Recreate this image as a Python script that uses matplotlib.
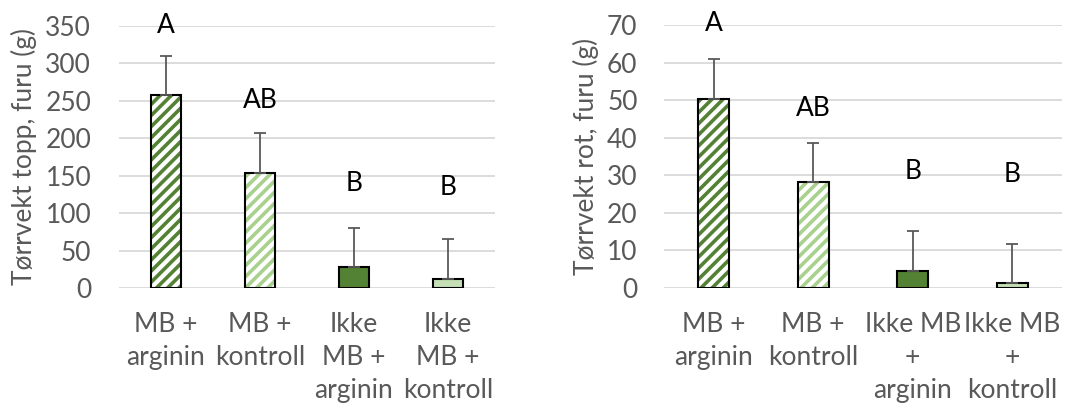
import matplotlib
matplotlib.use("Agg")
import matplotlib.pyplot as plt
import numpy as np

plt.rcParams['font.family'] = ['Lato', 'DejaVu Sans']
plt.rcParams['hatch.linewidth'] = 2.6

labels_left = ["MB +\narginin", "MB +\nkontroll", "Ikke\nMB +\narginin", "Ikke\nMB +\nkontroll"]
labels_right = ["MB +\narginin", "MB +\nkontroll", "Ikke MB\n+\narginin", "Ikke MB\n+\nkontroll"]

top_values = [258, 154, 28, 12.5]
top_err = [52, 53, 52, 52.5]
top_letters = ["A", "AB", "B", "B"]
top_letter_y = [351, 251, 140, 134]

root_values = [50.3, 28.1, 4.4, 1.2]
root_err = [10.6, 10.6, 10.8, 10.6]
root_letters = ["A", "AB", "B", "B"]
root_letter_y = [70.5, 47.9, 30.9, 30.1]

colors = ["#548235", "#A9D18E", "#548235", "#C5E0B4"]
hatched = [True, True, False, False]

GRAY = "#595959"
FS = 19

fig = plt.figure(figsize=(10.67, 4.12), dpi=100)
ax1 = fig.add_axes([0.1115, 0.301, 0.3524, 0.636])
ax2 = fig.add_axes([0.6223, 0.301, 0.373, 0.6383])


def draw(ax, vals, errs, letters, ly, labels, ylim, yticks, ylabel, width, ypad):
    x = np.arange(len(vals))
    for i in range(len(vals)):
        if hatched[i]:
            ax.bar(x[i], vals[i], width=width, color="white", edgecolor=colors[i],
                   hatch="///", linewidth=0, zorder=2)
        else:
            ax.bar(x[i], vals[i], width=width, color=colors[i], linewidth=0, zorder=2)
        ax.bar(x[i], vals[i], width=width, fill=False, edgecolor="black",
               linewidth=1.5, zorder=3)
    ax.errorbar(x, vals, yerr=[np.zeros(len(vals)), errs], fmt="none",
                ecolor=GRAY, elinewidth=1.3, capsize=4, capthick=1.3, zorder=4)
    for i in range(len(vals)):
        ax.text(x[i], ly[i], letters[i], ha="center", va="center", fontsize=FS,
                color="black", clip_on=False)
    ax.set_xlim(-0.5, len(vals) - 0.5)
    ax.set_ylim(*ylim)
    ax.set_yticks(yticks)
    ax.set_xticks(x)
    ax.set_xticklabels(labels, fontsize=FS, color=GRAY, linespacing=1.4)
    ax.tick_params(axis="y", labelsize=FS, labelcolor=GRAY, length=0, pad=ypad)
    ax.tick_params(axis="x", length=0, pad=17)
    ax.grid(axis="y", color="#D9D9D9", linewidth=1.3, zorder=0)
    ax.set_axisbelow(True)
    for s in ax.spines.values():
        s.set_visible(False)
    ax.set_ylabel(ylabel, fontsize=FS, color=GRAY, labelpad=6)


draw(ax1, top_values, top_err, top_letters, top_letter_y, labels_left,
     (0, 350), range(0, 351, 50), "Tørrvekt topp, furu (g)", 0.32, 20)
draw(ax2, root_values, root_err, root_letters, root_letter_y, labels_right,
     (0, 70), range(0, 71, 10), "Tørrvekt rot, furu (g)", 0.31, 19)

fig.savefig("out.png", dpi=100)
